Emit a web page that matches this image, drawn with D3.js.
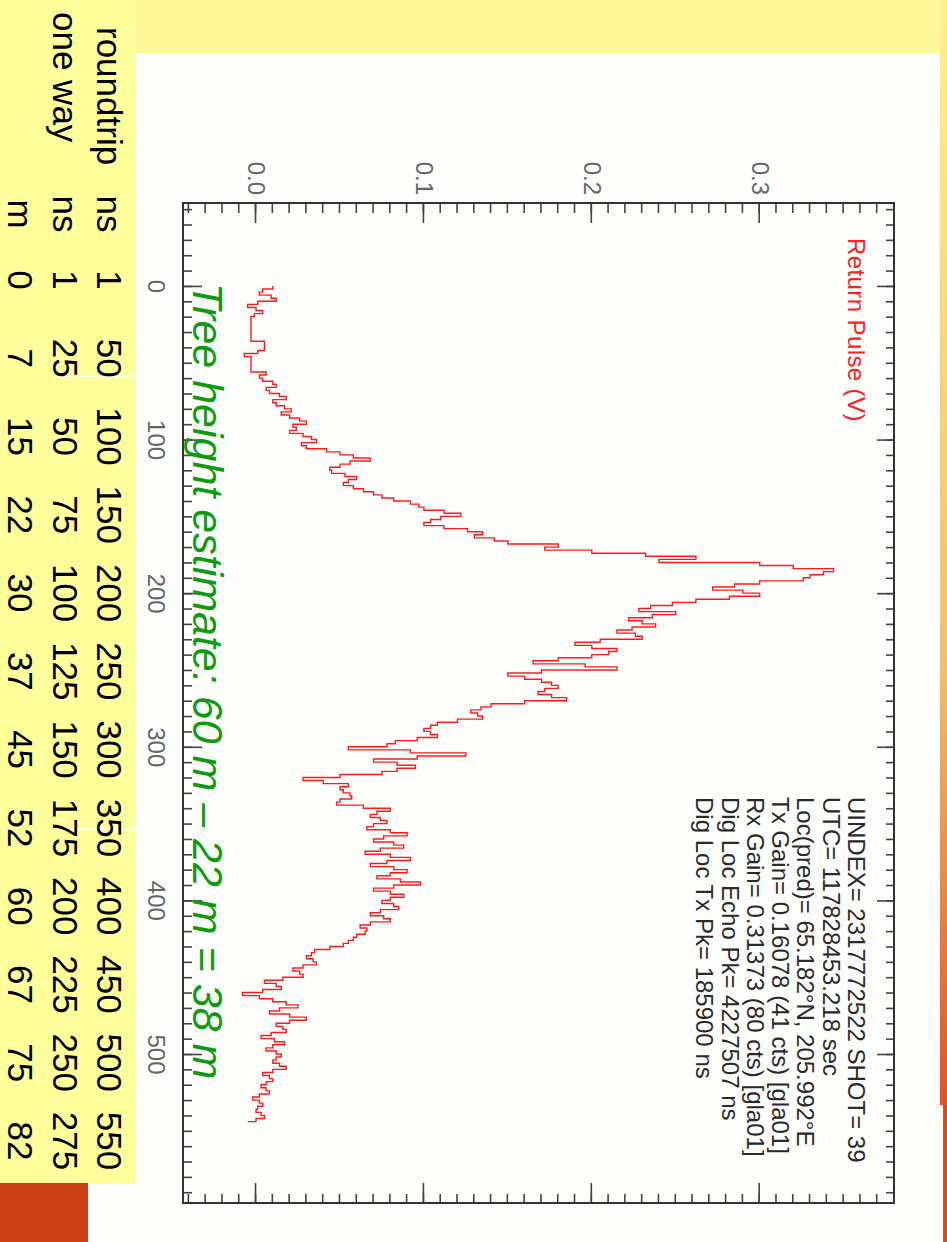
<!DOCTYPE html>
<html>
<head>
<meta charset="utf-8">
<script src="https://cdn.jsdelivr.net/npm/d3@7"></script>
<style>
body { margin: 0; background: #fdfefc; }
#vis { width: 947px; height: 1242px; }
text { font-family: 'Liberation Sans', Arial, sans-serif; }
</style>
</head>
<body>
<div id="vis"></div>
<script>
// return pulse, sampled every 2 ns (volts)
var times = d3.range(0, 546, 2);
var pulse = [
    0.010, 0.004, 0.002, 0.009, 0.012, 0.001, -0.005, 0.000, 0.004, -0.001,
    -0.003, -0.003, -0.003, -0.003, -0.003, -0.003, -0.003, -0.003, 0.005, 0.005,
    0.005, 0.001, -0.007, -0.003, -0.003, -0.003, -0.003, -0.003, 0.006, 0.002,
    0.004, 0.010, 0.012, 0.006, 0.008, 0.014, 0.018, 0.010, 0.012, 0.017,
    0.021, 0.015, 0.020, 0.026, 0.030, 0.022, 0.024, 0.020, 0.028, 0.033,
    0.036, 0.027, 0.030, 0.042, 0.050, 0.058, 0.068, 0.056, 0.050, 0.044,
    0.045, 0.053, 0.060, 0.055, 0.052, 0.058, 0.064, 0.070, 0.075, 0.082,
    0.092, 0.097, 0.100, 0.112, 0.122, 0.110, 0.104, 0.100, 0.112, 0.126,
    0.135, 0.130, 0.142, 0.150, 0.180, 0.172, 0.200, 0.232, 0.262, 0.240,
    0.300, 0.320, 0.344, 0.338, 0.330, 0.326, 0.300, 0.285, 0.272, 0.290,
    0.300, 0.282, 0.262, 0.248, 0.235, 0.228, 0.250, 0.236, 0.222, 0.230,
    0.238, 0.224, 0.215, 0.226, 0.230, 0.205, 0.190, 0.200, 0.215, 0.210,
    0.200, 0.180, 0.165, 0.196, 0.215, 0.170, 0.150, 0.160, 0.170, 0.176,
    0.180, 0.172, 0.168, 0.176, 0.185, 0.160, 0.140, 0.134, 0.128, 0.132,
    0.135, 0.120, 0.108, 0.104, 0.100, 0.104, 0.108, 0.096, 0.083, 0.078,
    0.055, 0.092, 0.125, 0.096, 0.070, 0.084, 0.095, 0.084, 0.075, 0.050,
    0.028, 0.040, 0.055, 0.050, 0.052, 0.056, 0.057, 0.050, 0.048, 0.064,
    0.080, 0.072, 0.068, 0.074, 0.078, 0.070, 0.066, 0.080, 0.090, 0.076,
    0.070, 0.082, 0.088, 0.074, 0.065, 0.080, 0.092, 0.078, 0.068, 0.082,
    0.090, 0.080, 0.072, 0.086, 0.098, 0.082, 0.070, 0.080, 0.088, 0.080,
    0.075, 0.082, 0.085, 0.074, 0.068, 0.076, 0.080, 0.068, 0.062, 0.066,
    0.065, 0.060, 0.058, 0.055, 0.052, 0.044, 0.035, 0.033, 0.030, 0.034,
    0.036, 0.028, 0.022, 0.026, 0.028, 0.016, 0.005, 0.012, 0.015, 0.004,
    -0.008, 0.002, 0.010, 0.018, 0.025, 0.014, 0.008, 0.020, 0.030, 0.020,
    0.012, 0.016, 0.018, 0.009, 0.003, 0.011, 0.017, 0.010, 0.006, 0.012,
    0.015, 0.012, 0.010, 0.014, 0.018, 0.010, 0.004, 0.008, 0.010, 0.006,
    0.003, 0.006, 0.008, 0.002, -0.002, 0.002, 0.004, 0.001, 0.000, 0.003,
    0.005, 0.000, -0.005
];

var timeTicks = [0, 100, 200, 300, 400, 500];
var timeMinor = d3.range(-50, 600, 10);
var voltTicks = [0.0, 0.1, 0.2, 0.3];
var voltMinor = d3.range(-4, 38).map(function(d) { return d / 100; });

var infoLines = [
    'UINDEX= 2317772522 SHOT= 39',
    'UTC= 117828453.218 sec',
    'Loc(pred)= 65.182\u00b0N, 205.992\u00b0E',
    'Tx Gain= 0.16078 (41 cts) [gla01]',
    'Rx Gain= 0.31373 (80 cts) [gla01]',
    'Dig Loc Echo Pk= 4227507 ns',
    'Dig Loc Tx Pk= 185900 ns'
];
var yTitle = 'Return Pulse (V)';
var note = 'Tree height estimate: 60 m \u2013 22 m = 38 m';

// conversion table on the left
var rowNames = ['roundtrip', 'one way', ''];
var rowUnits = ['ns', 'ns', 'm'];
var roundtripNs = ['1', '50', '100', '150', '200', '250', '300', '350', '400', '450', '500', '550'];
var oneWayNs = ['1', '25', '50', '75', '100', '125', '150', '175', '200', '225', '250', '275'];
var oneWayM = ['0', '7', '15', '22', '30', '37', '45', '52', '60', '67', '75', '82'];
var tableRows = [roundtripNs, oneWayNs, oneWayM];

var data = times.map(function(t, i) {
    return { t: t, v: pulse[i] };
});

var svg = d3.select('#vis')
    .append('svg')
    .attr('width', 947)
    .attr('height', 1242);

// slide background
var defs = svg.append('defs');
var grad = defs.append('linearGradient')
    .attr('id', 'edge')
    .attr('x1', 0).attr('x2', 0).attr('y1', 0).attr('y2', 1);
grad.append('stop').attr('offset', '0%').attr('stop-color', '#fcf08e');
grad.append('stop').attr('offset', '60%').attr('stop-color', '#f0c070');
grad.append('stop').attr('offset', '100%').attr('stop-color', '#dc5424');

svg.append('rect').attr('x', 0).attr('y', 0).attr('width', 947).attr('height', 1242).attr('fill', '#fdfefc');
svg.append('rect').attr('x', 0).attr('y', 0).attr('width', 947).attr('height', 53).attr('fill', '#fff898');
svg.append('rect').attr('x', 940).attr('y', 0).attr('width', 7).attr('height', 1105).attr('fill', 'url(#edge)');
svg.append('rect').attr('x', 943).attr('y', 1105).attr('width', 4).attr('height', 137).attr('fill', '#d84a1e');
svg.append('rect').attr('x', 0).attr('y', 0).attr('width', 136).attr('height', 1183).attr('fill', '#ffff9c');
svg.append('rect').attr('x', 0).attr('y', 1183).attr('width', 88).attr('height', 59).attr('fill', '#cd3f17');
svg.selectAll('.sep')
    .data([376, 829])
    .enter()
    .append('line')
    .attr('class', 'sep')
    .attr('x1', 55).attr('x2', 136)
    .attr('y1', function(d) { return d; })
    .attr('y2', function(d) { return d; })
    .attr('stroke', '#ffffff')
    .attr('stroke-width', 1.5);

// table, rotated a quarter turn clockwise
var table = svg.append('g')
    .attr('transform', 'translate(136,0) rotate(90)');

var rowBase = d3.scalePoint().domain([0, 1, 2]).range([39, 128]);
var colPos = d3.scalePoint().domain(d3.range(12)).range([280, 1141]);

table.selectAll('.rowname')
    .data(rowNames)
    .enter()
    .append('text')
    .attr('class', 'rowname')
    .attr('x', function(d, i) { return i === 0 ? 27 : 12; })
    .attr('y', function(d, i) { return rowBase(i); })
    .attr('font-size', 35)
    .attr('fill', '#000')
    .text(function(d) { return d; });

table.selectAll('.unit')
    .data(rowUnits)
    .enter()
    .append('text')
    .attr('class', 'unit')
    .attr('x', 214)
    .attr('y', function(d, i) { return rowBase(i); })
    .attr('text-anchor', 'middle')
    .attr('font-size', 35)
    .attr('fill', '#000')
    .text(function(d) { return d; });

tableRows.forEach(function(row, r) {
    table.selectAll('.cell' + r)
        .data(row)
        .enter()
        .append('text')
        .attr('class', 'cell' + r)
        .attr('x', function(d, i) { return colPos(i); })
        .attr('y', rowBase(r))
        .attr('text-anchor', 'middle')
        .attr('font-size', 35)
        .attr('fill', '#000')
        .text(function(d) { return d; });
});

// the IDL plot, turned 90 degrees clockwise
var W = 1000, H = 711;
var plot = svg.append('g')
    .attr('transform', 'translate(894,203) rotate(90)');

var x_scale = d3.scaleLinear().domain([-54, 597]).range([0, W]);
var y_scale = d3.scaleLinear().domain([-0.0435, 0.38]).range([H, 0]);

function tickGroup(axis, tr) {
    var g = plot.append('g')
        .attr('class', 'axis')
        .attr('transform', tr)
        .call(axis);
    g.select('.domain').remove();
    g.selectAll('line').attr('stroke', '#444').attr('stroke-width', 1.6);
    g.selectAll('text')
        .attr('fill', '#666')
        .attr('font-size', 24)
        .style('font-family', "'Liberation Sans', Arial, sans-serif");
    return g;
}

// time axis, bottom and top of the unrotated plot
tickGroup(d3.axisBottom(x_scale).tickValues(timeTicks).tickSize(-19).tickPadding(18).tickFormat(d3.format('d')), 'translate(0,' + H + ')');
tickGroup(d3.axisBottom(x_scale).tickValues(timeMinor).tickSize(-9).tickFormat(''), 'translate(0,' + H + ')');
tickGroup(d3.axisTop(x_scale).tickValues(timeTicks).tickSize(-17).tickFormat(''), 'translate(0,0)');
tickGroup(d3.axisTop(x_scale).tickValues(timeMinor).tickSize(-8).tickFormat(''), 'translate(0,0)');

// voltage axis, left and right
tickGroup(d3.axisLeft(y_scale).tickValues(voltTicks).tickSize(-20).tickPadding(8).tickFormat(d3.format('.1f')), 'translate(0,0)');
tickGroup(d3.axisLeft(y_scale).tickValues(voltMinor).tickSize(-10).tickFormat(''), 'translate(0,0)');
tickGroup(d3.axisRight(y_scale).tickValues(voltTicks).tickSize(-20).tickFormat(''), 'translate(' + W + ',0)');
tickGroup(d3.axisRight(y_scale).tickValues(voltMinor).tickSize(-9).tickFormat(''), 'translate(' + W + ',0)');

plot.append('rect')
    .attr('x', 0)
    .attr('y', 0)
    .attr('width', W)
    .attr('height', H)
    .attr('fill', 'none')
    .attr('stroke', '#333')
    .attr('stroke-width', 2);

var line = d3.line()
    .x(function(d) { return x_scale(d.t); })
    .y(function(d) { return y_scale(d.v); })
    .curve(d3.curveStepAfter);

plot.append('path')
    .datum(data)
    .attr('class', 'line')
    .attr('fill', 'none')
    .attr('stroke', '#ff1a1a')
    .attr('stroke-width', 1.4)
    .attr('d', line);

plot.append('text')
    .attr('x', 35)
    .attr('y', 46)
    .attr('font-size', 24)
    .attr('letter-spacing', 0.4)
    .attr('fill', '#ff2020')
    .text(yTitle);

plot.selectAll('.info')
    .data(infoLines)
    .enter()
    .append('text')
    .attr('class', 'info')
    .attr('x', 594)
    .attr('y', function(d, i) { return 46 + i * 25.3; })
    .attr('font-size', 24)
    .attr('fill', '#2a2a2a')
    .text(function(d) { return d; });

plot.append('text')
    .attr('x', 80)
    .attr('y', 701)
    .attr('font-size', 43)
    .attr('font-style', 'italic')
    .attr('fill', '#109a10')
    .text(note);
</script>
</body>
</html>
